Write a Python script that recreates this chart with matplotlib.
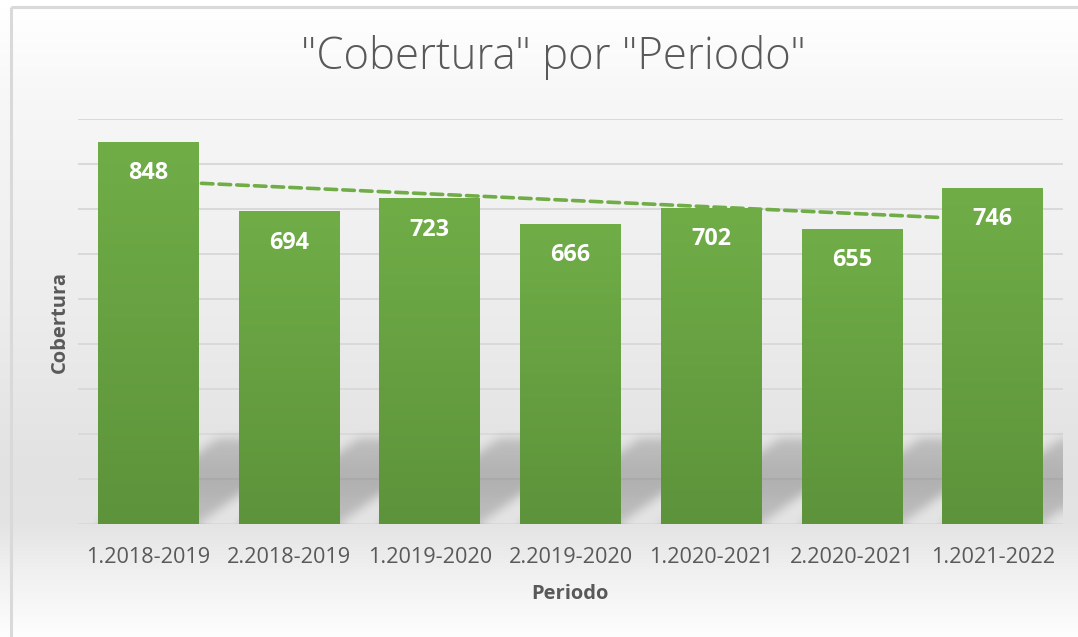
import numpy as np
import matplotlib
matplotlib.use("Agg")
import matplotlib.pyplot as plt
from matplotlib.colors import LinearSegmentedColormap

periods = ["1.2018-2019", "2.2018-2019", "1.2019-2020", "2.2019-2020",
           "1.2020-2021", "2.2020-2021", "1.2021-2022"]
cobertura = [848, 694, 723, 666, 702, 655, 746]

title = '"Cobertura" por "Periodo"'
xlabel = "Periodo"
ylabel = "Cobertura"

W, H = 1078, 637
DPI = 100
plt.rcParams['font.family'] = ['Open Sans', 'DejaVu Sans']
fig = plt.figure(figsize=(W / DPI, H / DPI), dpi=DPI)

def fx(px):
    return px / W

def fy(py):
    return 1 - py / H

# background gradient
bg = fig.add_axes([0, 0, 1, 1], zorder=-10)
ys = np.arange(H)
stops_y = [0, 7, 100, 300, 470, 524, 570, 637]
stops_v = [255, 255, 247, 237, 226, 228, 240, 254]
col = np.interp(ys, stops_y, stops_v) / 255.0
img = np.repeat(col[:, None], 10, axis=1)
bg.imshow(np.dstack([img, img, img]), extent=(0, 1, 0, 1), aspect='auto',
          origin='upper', interpolation='bilinear')
bg.set_xlim(0, 1)
bg.set_ylim(0, 1)
bg.axis('off')
# border
bg.plot([fx(11), fx(11)], [0, fy(7)], color='#d9d9d9', lw=2.2, solid_capstyle='butt')
bg.plot([fx(11), 1], [fy(7), fy(7)], color='#d9d9d9', lw=2.2, solid_capstyle='butt')

# main axes
ax_l, ax_r, ax_t, ax_b = 78, 1063, 119, 524
ax = fig.add_axes([fx(ax_l), fy(ax_b), fx(ax_r - ax_l), (ax_b - ax_t) / H])
ax.patch.set_alpha(0)
x = np.arange(len(periods))
ymax = 900
ax.set_xlim(-0.5, len(periods) - 0.5)
ax.set_ylim(0, ymax)

# gridlines
for g in range(0, ymax + 1, 100):
    ax.axhline(g, color='#d9d9d9', lw=1.4, zorder=1)

bw = 0.715
bars = ax.bar(x, cobertura, width=bw, color='#70ad47', zorder=3, linewidth=0)

# shadows (blurred parallelograms)
nx, ny = 985, 405
X = np.linspace(-0.5, len(periods) - 0.5, nx)
Y = np.linspace(0, ymax, ny)
XX, YY = np.meshgrid(X, Y)
Hs = 190.0
dxs = 0.85
mask = np.zeros_like(XX)
for b in bars:
    x0 = b.get_x()
    x1 = x0 + b.get_width()
    t = YY / Hs
    m = (YY <= Hs) & (XX >= x0 + t * dxs) & (XX <= x1 + t * dxs)
    mask = np.maximum(mask, m.astype(float))

def box_blur(a, r, axis):
    k = np.ones(2 * r + 1) / (2 * r + 1)
    return np.apply_along_axis(lambda v: np.convolve(np.pad(v, r, mode='edge'), k, mode='valid'), axis, a)

for _ in range(2):
    mask = box_blur(mask, 5, 0)
    mask = box_blur(mask, 5, 1)
shade = 0.16 + 0.06 * np.clip(1 - np.abs(YY - 95) / 95, 0, 1)
rgba = np.zeros((ny, nx, 4))
rgba[..., 3] = mask * shade
ax.imshow(rgba, extent=(-0.5, len(periods) - 0.5, 0, ymax), origin='lower',
          aspect='auto', zorder=2, interpolation='bilinear')

# bar gradients
cmap = LinearSegmentedColormap.from_list('g', ['#5d933b', '#70ad47'])
grad = np.linspace(0, 1, 256)[:, None]
for b in bars:
    ax.imshow(grad, extent=(b.get_x(), b.get_x() + b.get_width(), 0, b.get_height()),
              origin='lower', aspect='auto', cmap=cmap, zorder=3.5, interpolation='bilinear')

# trend line
coef = np.polyfit(x, cobertura, 1)
trend = np.polyval(coef, x)
ax.plot(x, trend, color='#70ad47', lw=2.6, linestyle=(0, (3.2, 1.7)),
        dash_capstyle='round', zorder=2.5)

ax.set_xlim(-0.5, len(periods) - 0.5)
ax.set_ylim(0, ymax)

# data labels
for b, v in zip(bars, cobertura):
    ax.annotate(str(v), (b.get_x() + b.get_width() / 2, b.get_height()),
                xytext=(0, -31), textcoords='offset pixels', ha='center', va='center',
                color='white', fontsize=16.8, fontweight='bold', zorder=5)

ax.set_xticks(x)
ax.set_xticklabels(periods, fontsize=15.6, color='#595959')
ax.tick_params(axis='x', length=0, pad=16.5)
ax.set_yticks([])
for s in ax.spines.values():
    s.set_visible(False)

fig.text(fx(553), fy(58), title, ha='center', va='center', fontsize=31.5,
         color='#595959', fontweight='light')
fig.text(fx(570), fy(594), xlabel, ha='center', va='center', fontsize=14.5,
         color='#595959', fontweight='bold')
fig.text(fx(60), fy(322), ylabel, ha='center', va='center', fontsize=14.5,
         color='#595959', fontweight='bold', rotation=90)

fig.savefig('out.png', dpi=DPI)
